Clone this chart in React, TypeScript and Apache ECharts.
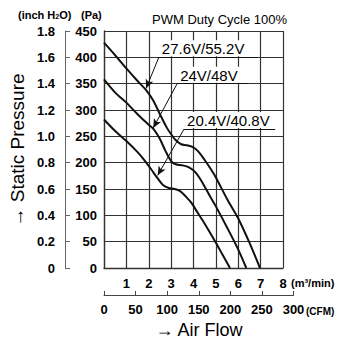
import { useEffect, useRef } from "react";
import * as echarts from "echarts";

// Fan P-Q curves: air flow (m³/min) vs static pressure (Pa)
const flow276 = [0, 0.5, 1.0, 1.5, 1.9, 2.2, 2.5, 2.8, 3.0, 3.2, 3.45, 3.7, 3.95, 4.2, 4.5, 4.8, 5.0, 5.5, 6.0, 6.5, 6.97];
const pres276 = [428, 404, 379, 355, 337, 318, 292, 267, 254, 243, 235, 233, 230, 222, 205, 186, 172, 131, 94, 48, 0];

const flow24 = [0, 0.5, 1.0, 1.5, 2.0, 2.25, 2.5, 2.75, 3.0, 3.2, 3.5, 3.8, 4.1, 4.4, 4.7, 5.0, 5.5, 6.0, 6.36];
const pres24 = [358, 333, 314, 292, 272, 262, 245, 222, 203, 197, 195, 191, 181, 162, 139, 117, 77, 35, 0];

const flow204 = [0, 0.5, 1.0, 1.5, 1.8, 2.1, 2.4, 2.65, 2.9, 3.15, 3.4, 3.65, 3.9, 4.2, 4.5, 5.0, 5.3, 5.63];
const pres204 = [282, 260, 241, 220, 205, 188, 170, 157, 152, 150, 146, 136, 124, 104, 84, 48, 25, 0];

// Curve labels (data coordinates): underline start, underline end, arrow tip
const curveNames = ["27.6V/55.2V", "24V/48V", "20.4V/40.8V"];
const labelStart = [[2.45, 400], [3.27, 350], [3.58, 264]];
const labelEndX = [6.85, 6.45, 7.65];
const arrowTip = [[1.88, 341], [2.2, 266], [2.4, 176]];

// Axis scales
const paMax = 450;
const paStep = 50;
const inchMax = 1.8;
const inchStep = 0.2;
const m3Max = 8;
const cfmMax = 300;
const cfmStep = 50;

const zip = (xs: number[], ys: number[]) => xs.map((x, i) => [x, ys[i]]);

const numFont = {
  fontFamily: '"Liberation Sans", Arial, sans-serif',
  fontWeight: "bold" as const,
  fontSize: 13,
  color: "#000",
};

export default function App() {
  const ref = useRef<HTMLDivElement>(null);

  useEffect(() => {
    if (!ref.current) return;
    const chart = echarts.init(ref.current, undefined, { renderer: "svg" });

    const curves = [zip(flow276, pres276), zip(flow24, pres24), zip(flow204, pres204)];

    const series = curves.map((data, i) => ({
      type: "line",
      xAxisIndex: 0,
      yAxisIndex: 0,
      data,
      smooth: 0.3,
      showSymbol: false,
      silent: true,
      lineStyle: { color: "#111", width: 2 },
      markLine: {
        silent: true,
        symbol: ["none", "none"],
        lineStyle: { color: "#111", width: 1, type: "solid" },
        data: [
          [
            { coord: labelStart[i], symbol: "none" },
            { coord: arrowTip[i], symbol: "arrow", symbolSize: [6, 9] },
          ],
          [
            {
              coord: labelStart[i],
              label: {
                show: true,
                position: "insideStartTop",
                distance: 1,
                formatter: curveNames[i],
                color: "#000",
                fontFamily: "Liberation Sans, Arial, sans-serif",
                fontSize: 15,
                backgroundColor: "#fff",
                padding: [1, 2, 0, 2],
              },
            },
            { coord: [labelEndX[i], labelStart[i][1]] },
          ],
        ],
      },
    }));

    chart.setOption({
      animation: false,
      textStyle: { fontFamily: "Liberation Sans, Arial, sans-serif" },
      grid: [
        { left: 104, top: 31, width: 179, height: 237 },
        { left: 104, top: 31, width: 189.5, height: 264 },
      ],
      xAxis: [
        {
          gridIndex: 0,
          type: "value",
          min: 0,
          max: m3Max,
          interval: 1,
          axisLine: { show: true, lineStyle: { color: "#333", width: 1.3 } },
          axisTick: { show: false },
          axisLabel: { ...numFont, margin: 9, formatter: (v: number) => (v === 0 ? "" : String(v)) },
          splitLine: { show: true, lineStyle: { color: "#333", width: 1.2 } },
        },
        {
          gridIndex: 1,
          type: "value",
          min: 0,
          max: cfmMax,
          interval: cfmStep,
          axisLine: { show: true, lineStyle: { color: "#444", width: 1 } },
          axisTick: { show: true, inside: true, length: 4, lineStyle: { color: "#444" } },
          axisLabel: { ...numFont, margin: 8 },
          splitLine: { show: false },
        },
      ],
      yAxis: [
        {
          gridIndex: 0,
          type: "value",
          min: 0,
          max: paMax,
          interval: paStep,
          axisLine: { show: true, lineStyle: { color: "#333", width: 1.3 } },
          axisTick: { show: false },
          axisLabel: { ...numFont, margin: 7 },
          splitLine: { show: true, lineStyle: { color: "#333", width: 1.2 } },
        },
        {
          gridIndex: 0,
          type: "value",
          position: "left",
          offset: 39,
          min: 0,
          max: inchMax,
          interval: inchStep,
          axisLine: { show: true, lineStyle: { color: "#666", width: 1 } },
          axisTick: { show: true, inside: true, length: 5, lineStyle: { color: "#666" } },
          axisLabel: {
            ...numFont,
            margin: 10,
            formatter: (v: number) => (v === 0 ? "0" : v.toFixed(1)),
          },
          splitLine: { show: false },
        },
        { gridIndex: 1, type: "value", show: false, min: 0, max: 1 },
      ],
      series,
      graphic: [
        {
          type: "text",
          left: 18,
          top: 9,
          style: {
            text: "(inch H{s|2}O)",
            rich: { s: { fontSize: 7, fontWeight: "bold", verticalAlign: "bottom", padding: [3, 0, 0, 0] } },
            fontSize: 11,
            fontWeight: "bold",
            fill: "#000",
          },
        },
        {
          type: "text",
          left: 81,
          top: 9,
          style: { text: "(Pa)", fontSize: 11, fontWeight: "bold", fill: "#000" },
        },
        {
          type: "text",
          left: 152,
          top: 13,
          style: { text: "PWM Duty Cycle 100%", fontSize: 13, fill: "#000" },
        },
        {
          type: "text",
          left: 291,
          top: 277,
          style: { text: "(m³/min)", fontSize: 11, fontWeight: "bold", fill: "#000" },
        },
        {
          type: "text",
          left: 306,
          top: 306,
          style: { text: "(CFM)", fontSize: 10, fontWeight: "bold", fill: "#000" },
        },
        {
          type: "text",
          x: 199,
          y: 330,
          style: {
            text: "→ Air Flow",
            fontSize: 18,
            fill: "#000",
            align: "center",
            verticalAlign: "middle",
          },
        },
        {
          type: "text",
          x: 17,
          y: 150,
          rotation: Math.PI / 2,
          style: {
            text: "→ Static Pressure",
            fontSize: 19,
            fill: "#000",
            align: "center",
            verticalAlign: "middle",
          },
        },
      ],
    });

    return () => chart.dispose();
  }, []);

  return (
    <div
      ref={ref}
      style={{ position: "fixed", left: 0, top: 0, width: 343, height: 340, background: "#fff" }}
    />
  );
}
